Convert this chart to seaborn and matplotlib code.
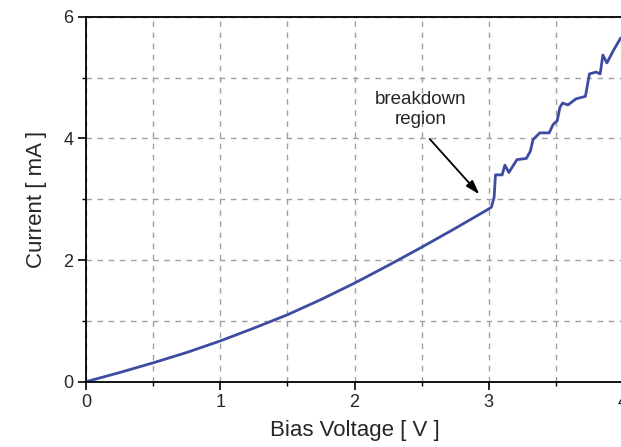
import matplotlib
matplotlib.use("Agg")
import matplotlib.pyplot as plt
import seaborn as sns
import pandas as pd
from matplotlib.ticker import MultipleLocator

voltage = [0.0, 0.25, 0.5, 0.75, 1.0, 1.25, 1.5, 1.75, 2.0, 2.25, 2.5, 2.75, 3.0, 3.02,
           3.04, 3.05, 3.10, 3.12, 3.15, 3.21, 3.28, 3.31, 3.33, 3.38, 3.45, 3.48, 3.51,
           3.53, 3.55, 3.59, 3.65, 3.72, 3.75, 3.80, 3.83, 3.85, 3.88, 3.93, 3.98, 4.0]
current = [0.0, 0.15, 0.31, 0.48, 0.67, 0.88, 1.10, 1.35, 1.62, 1.91, 2.21, 2.52, 2.84, 2.87,
           3.03, 3.40, 3.40, 3.56, 3.44, 3.65, 3.67, 3.79, 3.98, 4.09, 4.09, 4.23, 4.29,
           4.51, 4.58, 4.55, 4.65, 4.69, 5.06, 5.09, 5.06, 5.37, 5.24, 5.45, 5.64, 5.68]

x_ticks = [0, 1, 2, 3, 4]
y_ticks = [0, 2, 4, 6]
x_label = "Bias Voltage [ V ]"
y_label = "Current [ mA ]"
annotation = "breakdown\nregion"

df = pd.DataFrame({"V": voltage, "I": current})

sns.set_style("white")
plt.rcParams["font.family"] = ["Liberation Sans", "DejaVu Sans"]

W, H = 621, 447
fig = plt.figure(figsize=(W / 100, H / 100), dpi=100)
ax = fig.add_axes([86 / W, 65.3 / H, 537 / W, 365 / H])

sns.lineplot(data=df, x="V", y="I", ax=ax, sort=False, color="#3d4ca1", linewidth=2.0)

ax.set_xlim(0, 4)
ax.set_ylim(0, 6)
ax.set_xticks(x_ticks)
ax.set_yticks(y_ticks)
ax.xaxis.set_minor_locator(MultipleLocator(0.5))
ax.yaxis.set_minor_locator(MultipleLocator(1))
ax.tick_params(axis="both", which="major", direction="out", length=6, width=1.2,
               labelsize=13, color="black", pad=3, bottom=True, left=True)
ax.tick_params(axis="both", which="minor", direction="out", length=3, width=1.0,
               color="black", bottom=True, left=True)
ax.grid(True, which="both", linestyle=(0, (4, 4)), color="#a0a0a0", linewidth=1.0)
ax.set_axisbelow(True)
for s in ax.spines.values():
    s.set_color("black")
    s.set_linewidth(1.3)

ax.set_xlabel(x_label, fontsize=16, labelpad=6)
ax.set_ylabel(y_label, fontsize=16, labelpad=12)

ax.text(2.49, 4.48, annotation, ha="center", va="center", fontsize=13.5, linespacing=1.25)
ax.annotate("", xy=(2.93, 3.08), xytext=(2.56, 3.99),
            arrowprops=dict(arrowstyle="-|>,head_length=0.7,head_width=0.22", color="black",
                            lw=1.3, shrinkA=0, shrinkB=0, mutation_scale=12))

fig.savefig("out.png", dpi=100)
